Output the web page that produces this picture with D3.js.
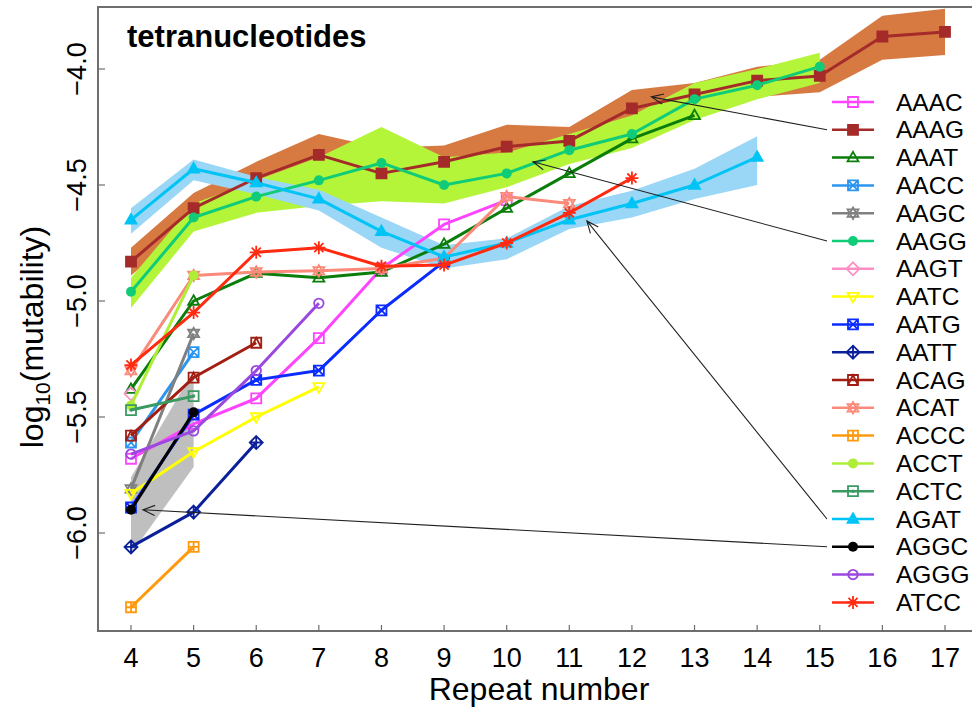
<!DOCTYPE html>
<html>
<head>
<meta charset="utf-8">
<script src="https://cdn.jsdelivr.net/npm/d3@7"></script>
<style>
  body { margin: 0; background: #fff; }
  text { font-family: "Liberation Sans", Arial, Helvetica, sans-serif; }
</style>
</head>
<body>
<script>
// repeat numbers shown on the x axis
var repeats = [4, 5, 6, 7, 8, 9, 10, 11, 12, 13, 14, 15, 16, 17];
var yTicks = [-4.0, -4.5, -5.0, -5.5, -6.0];

// log10 mutability per motif, starting at repeat number 4
var AAAC = [-5.68, -5.53, -5.42, -5.16, -4.86, -4.67, -4.565];
var AAAG = [-4.83, -4.60, -4.47, -4.37, -4.45, -4.40, -4.335, -4.31, -4.17, -4.11, -4.05, -4.03, -3.86, -3.84];
var AAAT = [-5.38, -5.00, -4.88, -4.90, -4.875, -4.755, -4.60, -4.45, -4.30, -4.20];
var AACC = [-5.61, -5.22];
var AAGC = [-5.81, -5.14];
var AAGG = [-4.96, -4.64, -4.55, -4.48, -4.405, -4.50, -4.45, -4.35, -4.28, -4.13, -4.07, -3.99];
var AAGT = [-5.40];
var AATC = [-5.83, -5.65, -5.50, -5.37];
var AATG = [-5.89, -5.49, -5.34, -5.30, -5.04, -4.83];
var AATT = [-6.06, -5.91, -5.61];
var ACAG = [-5.58, -5.33, -5.18];
var ACAT = [-5.30, -4.89, -4.875, -4.87, -4.86, -4.815, -4.55, -4.58];
var ACCC = [-6.32, -6.06];
var ACCT = [-5.45, -4.89];
var ACTC = [-5.47, -5.41];
var AGAT = [-4.65, -4.43, -4.49, -4.56, -4.70, -4.81, -4.75, -4.65, -4.58, -4.50, -4.38];
var AGGC = [-5.90, -5.48];
var AGGG = [-5.66, -5.56, -5.30, -5.01];
var ATCC = [-5.276, -5.05, -4.79, -4.77, -4.85, -4.845, -4.75, -4.62, -4.47];

// confidence bands (upper / lower), starting at repeat number 4
var AAAG_hi = [-4.77, -4.535, -4.40, -4.28, -4.34, -4.33, -4.24, -4.25, -4.09, -4.06, -3.99, -3.96, -3.77, -3.74];
var AAAG_lo = [-4.89, -4.66, -4.53, -4.46, -4.53, -4.49, -4.41, -4.38, -4.24, -4.18, -4.12, -4.10, -3.96, -3.94];
var AAGG_hi = [-4.90, -4.58, -4.48, -4.38, -4.25, -4.38, -4.36, -4.28, -4.20, -4.06, -4.00, -3.93];
var AAGG_lo = [-5.03, -4.70, -4.62, -4.59, -4.57, -4.58, -4.51, -4.41, -4.34, -4.22, -4.13, -4.06];
var AGAT_hi = [-4.60, -4.39, -4.465, -4.52, -4.64, -4.76, -4.73, -4.59, -4.525, -4.43, -4.29];
var AGAT_lo = [-4.71, -4.48, -4.54, -4.61, -4.77, -4.86, -4.82, -4.69, -4.64, -4.56, -4.50];
var AGGC_hi = [-5.76, -5.30];
var AGGC_lo = [-6.09, -5.715];

var motifs = ["AAAC", "AAAG", "AAAT", "AACC", "AAGC", "AAGG", "AAGT", "AATC", "AATG", "AATT",
              "ACAG", "ACAT", "ACCC", "ACCT", "ACTC", "AGAT", "AGGC", "AGGG", "ATCC"];
var values = [AAAC, AAAG, AAAT, AACC, AAGC, AAGG, AAGT, AATC, AATG, AATT,
              ACAG, ACAT, ACCC, ACCT, ACTC, AGAT, AGGC, AGGG, ATCC];
var colors = ["#ff44ff", "#a52a2a", "#0a7d0a", "#2b95f0", "#808080", "#10cc78", "#ff8ec4", "#ffff00", "#0a2cff", "#0a1f9a",
              "#a31e12", "#fa8a7a", "#ff9a10", "#aeee38", "#3a9a62", "#00c4f5", "#000000", "#9a48e0", "#ff2a10"];
var shapes = ["sqOpen", "sqFill", "triOpen", "sqX", "david", "circFill", "diamond", "triDown", "sqX", "diamPlus",
              "sqTri", "david", "sqPlus", "circFill", "sqDot", "triFill", "circFill", "circOpen", "aster"];

// bands and the arrows that tie them to the legend
var bandMotifs = ["AAAG", "AAGG", "AGAT", "AGGC"];
var bandHi = [AAAG_hi, AAGG_hi, AGAT_hi, AGGC_hi];
var bandLo = [AAAG_lo, AAGG_lo, AGAT_lo, AGGC_lo];
var bandColors = ["#d67a42", "#b4f53a", "#9ad6f6", "#bfbfbf"];
var arrowTipX = [12.31, 10.42, 11.28, 4.19];
var arrowTipY = [-4.12, -4.40, -4.655, -5.90];

var W = 972, H = 709;
var x = d3.scaleLinear().domain([4, 17]).range([131, 945]);
var y = d3.scaleLinear().domain([-4, -6]).range([69, 533]);

var svg = d3.select("body").append("svg")
    .attr("width", W)
    .attr("height", H);

var plotL = 98, plotT = 7, plotB = 631;

// bands
bandMotifs.forEach(function(m, k) {
  var pts = bandHi[k].map(function(v, i) { return {i: i, hi: v, lo: bandLo[k][i]}; });
  svg.append("path")
      .datum(pts)
      .attr("fill", bandColors[k])
      .attr("d", d3.area()
          .x(function(d) { return x(4 + d.i); })
          .y0(function(d) { return y(d.lo); })
          .y1(function(d) { return y(d.hi); }));
});

function marker(g, type, col, r) {
  var sw = 1.8;
  function p(d, fill) {
    g.append("path").attr("d", d).attr("fill", fill ? col : "none")
      .attr("stroke", col).attr("stroke-width", sw);
  }
  var tr = r * 1.15;
  var up = "M0," + (-tr) + "L" + (tr * 0.95) + "," + (tr * 0.65) + "L" + (-tr * 0.95) + "," + (tr * 0.65) + "Z";
  var dn = "M0," + tr + "L" + (tr * 0.95) + "," + (-tr * 0.65) + "L" + (-tr * 0.95) + "," + (-tr * 0.65) + "Z";
  var sq = "M" + (-r) + "," + (-r) + "h" + (2 * r) + "v" + (2 * r) + "h" + (-2 * r) + "Z";
  var dia = "M0," + (-r * 1.3) + "L" + (r * 1.3) + ",0L0," + (r * 1.3) + "L" + (-r * 1.3) + ",0Z";
  switch (type) {
    case "sqOpen": p(sq, false); break;
    case "sqFill": p(sq, true); break;
    case "triOpen": p(up, false); break;
    case "triFill": p(up, true); break;
    case "triDown": p(dn, false); break;
    case "sqX": p(sq + "M" + (-r) + "," + (-r) + "L" + r + "," + r + "M" + r + "," + (-r) + "L" + (-r) + "," + r, false); break;
    case "sqPlus": p(sq + "M0," + (-r) + "V" + r + "M" + (-r) + ",0H" + r, false); break;
    case "sqTri": p(sq + "M" + (-r) + "," + r + "L0," + (-r) + "L" + r + "," + r, false); break;
    case "sqDot": p(sq, false);
      g.append("circle").attr("r", r * 0.35).attr("fill", col); break;
    case "david": p(up + dn, false); break;
    case "diamond": p(dia, false); break;
    case "diamPlus": p(dia + "M0," + (-r * 1.3) + "V" + (r * 1.3) + "M" + (-r * 1.3) + ",0H" + (r * 1.3), false); break;
    case "circFill": g.append("circle").attr("r", r).attr("fill", col); break;
    case "circOpen": g.append("circle").attr("r", r * 0.95).attr("fill", "none")
      .attr("stroke", col).attr("stroke-width", sw); break;
    case "aster":
      var a = r * 1.3;
      p("M0," + (-a) + "V" + a + "M" + (-a) + ",0H" + a +
        "M" + (-a * 0.7) + "," + (-a * 0.7) + "L" + (a * 0.7) + "," + (a * 0.7) +
        "M" + (a * 0.7) + "," + (-a * 0.7) + "L" + (-a * 0.7) + "," + (a * 0.7), false); break;
  }
}

// lines and points
var line = d3.line()
    .x(function(d, i) { return x(4 + i); })
    .y(function(d) { return y(d); });

motifs.forEach(function(m, k) {
  var g = svg.append("g");
  if (values[k].length > 1) {
    g.append("path")
        .datum(values[k])
        .attr("fill", "none")
        .attr("stroke", colors[k])
        .attr("stroke-width", 3)
        .attr("stroke-linejoin", "round")
        .attr("d", line);
  }
  values[k].forEach(function(v, i) {
    var mg = g.append("g").attr("transform", "translate(" + x(4 + i) + "," + y(v) + ")");
    marker(mg, shapes[k], colors[k], 5);
  });
});

// axes frame
svg.append("path")
    .attr("d", "M" + W + "," + plotT + "H" + plotL + "V" + plotB + "H" + W)
    .attr("fill", "none")
    .attr("stroke", "#6e6e6e")
    .attr("stroke-width", 2);

// x ticks (inside) and labels
repeats.forEach(function(r) {
  svg.append("line")
      .attr("x1", x(r)).attr("x2", x(r))
      .attr("y1", plotB).attr("y2", plotB - 6)
      .attr("stroke", "#6e6e6e").attr("stroke-width", 1.2);
  svg.append("text")
      .attr("x", x(r))
      .attr("y", 667)
      .attr("text-anchor", "middle")
      .style("font-size", "27px")
      .text(r);
});

// y ticks and labels
yTicks.forEach(function(t) {
  svg.append("line")
      .attr("x1", plotL).attr("x2", plotL + 7)
      .attr("y1", y(t)).attr("y2", y(t))
      .attr("stroke", "#6e6e6e").attr("stroke-width", 1.2);
  svg.append("text")
      .attr("transform", "translate(86," + y(t) + ") rotate(-90)")
      .attr("text-anchor", "middle")
      .style("font-size", "27px")
      .text("\u2212" + Math.abs(t).toFixed(1));
});

// axis titles
svg.append("text")
    .attr("x", 539)
    .attr("y", 700)
    .attr("text-anchor", "middle")
    .style("font-size", "32px")
    .text("Repeat number");

var yl = svg.append("text")
    .attr("transform", "translate(43,337) rotate(-90)")
    .attr("text-anchor", "middle")
    .style("font-size", "32px");
yl.append("tspan").text("log");
yl.append("tspan").attr("dy", 7).style("font-size", "21px").text("10");
yl.append("tspan").attr("dy", -7).text("(mutability)");

// title
svg.append("text")
    .attr("x", 127)
    .attr("y", 47)
    .style("font-size", "31px")
    .style("font-weight", "bold")
    .text("tetranucleotides");

// legend
var legX0 = 832, legX1 = 874, legY0 = 102, legStep = 27.8;
motifs.forEach(function(m, k) {
  var ly = legY0 + k * legStep;
  svg.append("line")
      .attr("x1", legX0).attr("x2", legX1)
      .attr("y1", ly).attr("y2", ly)
      .attr("stroke", colors[k]).attr("stroke-width", 2.5);
  var mg = svg.append("g").attr("transform", "translate(" + ((legX0 + legX1) / 2) + "," + ly + ")");
  marker(mg, shapes[k], colors[k], 5);
  svg.append("text")
      .attr("x", 896)
      .attr("y", ly + 8.5)
      .style("font-size", "24.5px")
      .text(m);
});

// arrows from legend to banded series
bandMotifs.forEach(function(m, k) {
  var ly = legY0 + motifs.indexOf(m) * legStep;
  var x0 = 827, y0 = ly;
  var x1 = x(arrowTipX[k]), y1 = y(arrowTipY[k]);
  var ang = Math.atan2(y0 - y1, x0 - x1);
  var hl = 13, ha = 0.4;
  svg.append("path")
      .attr("d", "M" + x0 + "," + y0 + "L" + x1 + "," + y1 +
        "M" + (x1 + hl * Math.cos(ang + ha)) + "," + (y1 + hl * Math.sin(ang + ha)) +
        "L" + x1 + "," + y1 +
        "L" + (x1 + hl * Math.cos(ang - ha)) + "," + (y1 + hl * Math.sin(ang - ha)))
      .attr("fill", "none")
      .attr("stroke", "#222")
      .attr("stroke-width", 1.1);
});
</script>
</body>
</html>
